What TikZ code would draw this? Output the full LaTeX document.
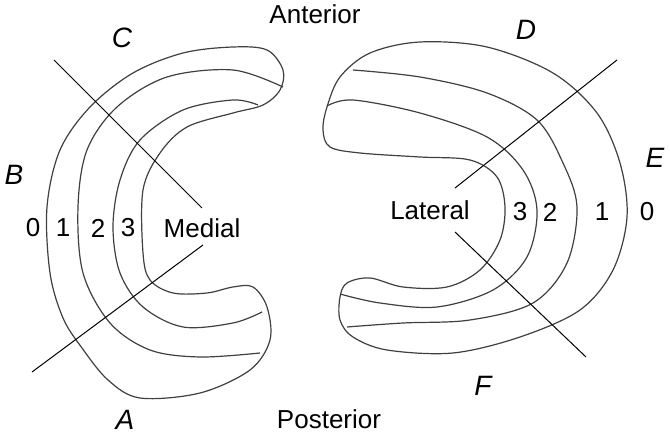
\documentclass[tikz,border=0pt]{standalone}
\usepackage{fontspec}
\setmainfont{Liberation Sans}
\begin{document}
\begin{tikzpicture}[x=1pt,y=-1pt,line width=1.1pt,
  lab/.style={font=\fontsize{26}{28}\selectfont,inner sep=0pt},
  ilab/.style={font=\fontsize{28}{30}\selectfont\itshape,inner sep=0pt},
  men/.style={draw=black!75,line width=1.2pt},
  cut/.style={draw=black,line width=1pt}]
\useasboundingbox[fill=white] (0,0) rectangle (670,435);
% medial meniscus
\draw[men] plot[smooth cycle,tension=0.55] coordinates {(82,348) (108,380) (140,398) (200,393) (250,370) (270,340) (267,307) (253,287) (233,287) (207,293) (173,293) (150,280) (143,253) (143,190) (160,153) (187,127) (233,113) (263,105) (280,90) (283,70) (267,50) (233,47) (183,53) (133,73) (90,107) (60,150) (47,207) (50,273) (63,318)};
\draw[men] plot[smooth,tension=0.55] coordinates {(283,87) (233,70) (167,77) (117,107) (87,150) (78,207) (83,273) (110,323) (150,350) (200,357) (260,353)};
\draw[men] plot[smooth,tension=0.55] coordinates {(258,105) (233,100) (183,110) (140,140) (120,180) (113,227) (120,273) (143,307) (183,327) (233,323) (262,312)};
% lateral meniscus
\draw[men] plot[smooth cycle,tension=0.55] coordinates {(327,107) (323,130) (330,147) (360,153) (420,157) (470,160) (497,177) (505,207) (500,240) (480,270) (447,287) (403,287) (370,278) (347,283) (340,297) (340,320) (353,337) (387,350) (453,353) (520,337) (580,310) (613,270) (627,217) (620,163) (597,113) (553,73) (487,47) (420,42) (370,53) (340,77)};
\draw[men] plot[smooth,tension=0.55] coordinates {(353,70) (420,77) (487,93) (537,120) (563,163) (577,207) (567,263) (533,303) (470,320) (403,323) (347,327)};
\draw[men] plot[smooth,tension=0.55] coordinates {(327,106) (353,100) (420,113) (487,137) (523,170) (537,210) (527,257) (493,290) (437,307) (380,303) (340,294)};
% cut lines
\coordinate (c1) at (54,60); \coordinate (c2) at (202,208);
\coordinate (a1) at (32,372); \coordinate (a2) at (203,245);
\coordinate (d1) at (617,60); \coordinate (d2) at (455,188);
\coordinate (f1) at (455,232); \coordinate (f2) at (586,357);
\draw[cut] (c1) -- (c2); \draw[cut] (a1) -- (a2);
\draw[cut] (d1) -- (d2); \draw[cut] (f1) -- (f2);
% labels
\node[lab] (ant) at (315,14) {Anterior};
\node[lab] (post) at (329,419) {Posterior};
\node[ilab] (C) at (122,38) {C};
\node[ilab] (B) at (14,175) {B};
\node[ilab] (A) at (125,420) {A};
\node[ilab] (D) at (526,30) {D};
\node[ilab] (E) at (655,158) {E};
\node[ilab] (F) at (483,386) {F};
\node[lab] (m0) at (33,228) {0};
\node[lab] (m1) at (63,228) {1};
\node[lab] (m2) at (98,228) {2};
\node[lab] (m3) at (128,228) {3};
\node[lab] (med) at (202,228) {Medial};
\node[lab] (lat) at (430,210) {Lateral};
\node[lab] (l3) at (520,212) {3};
\node[lab] (l2) at (550,212) {2};
\node[lab] (l1) at (602,212) {1};
\node[lab] (l0) at (647,212) {0};
\end{tikzpicture}
\end{document}
